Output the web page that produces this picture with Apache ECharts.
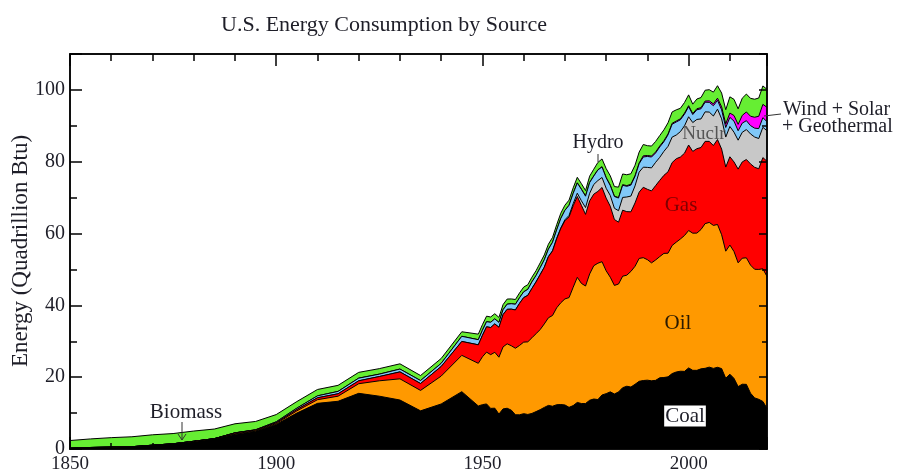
<!DOCTYPE html>
<html>
<head>
<meta charset="utf-8">
<script src="https://cdn.jsdelivr.net/npm/echarts@6/dist/echarts.min.js"></script>
<style>
  html, body { margin: 0; padding: 0; background: #fff; }
  #chart { width: 899px; height: 475px; }
</style>
</head>
<body>
<div id="chart"></div>
<script>
// years: every 5 years to 1945, then yearly
const years = [1850, 1855, 1860, 1865, 1870, 1875, 1880, 1885, 1890, 1895,
  1900, 1905, 1910, 1915, 1920, 1925, 1930, 1935, 1940, 1945,
  1949, 1950, 1951, 1952, 1953, 1954, 1955, 1956, 1957, 1958,
  1959, 1960, 1961, 1962, 1963, 1964, 1965, 1966, 1967, 1968,
  1969, 1970, 1971, 1972, 1973, 1974, 1975, 1976, 1977, 1978,
  1979, 1980, 1981, 1982, 1983, 1984, 1985, 1986, 1987, 1988,
  1989, 1990, 1991, 1992, 1993, 1994, 1995, 1996, 1997, 1998,
  1999, 2000, 2001, 2002, 2003, 2004, 2005, 2006, 2007, 2008,
  2009, 2010, 2011, 2012, 2013, 2014, 2015, 2016, 2017, 2018, 2019]

// quadrillion Btu
const coal = [0.22, 0.42, 0.52, 0.63, 1.05, 1.44, 2.05, 2.84, 4.06, 4.95,
  6.84, 10.0, 12.71, 13.29, 15.5, 14.71, 13.64, 10.63, 12.54, 15.97,
  11.98, 12.35, 12.55, 11.31, 11.37, 9.72, 11.17, 11.35, 10.82, 9.53,
  9.52, 9.84, 9.62, 9.91, 10.41, 10.96, 11.58, 12.14, 11.91, 12.33,
  12.38, 12.27, 11.6, 12.08, 12.97, 12.66, 12.66, 13.58, 13.92, 13.77,
  15.04, 15.42, 15.91, 15.32, 15.89, 17.07, 17.48, 17.26, 18.01, 18.85,
  19.07, 19.17, 18.99, 19.12, 19.84, 19.91, 20.09, 21.0, 21.45, 21.66,
  21.62, 22.58, 21.91, 21.9, 22.32, 22.47, 22.8, 22.45, 22.75, 22.39,
  19.69, 20.83, 19.66, 17.38, 18.04, 18.0, 15.55, 14.23, 13.84, 13.24, 11.32]
const oil = [0, 0, 0.003, 0.006, 0.011, 0.011, 0.1, 0.04, 0.16, 0.17,
  0.23, 0.61, 1.01, 1.42, 2.68, 4.28, 5.9, 5.68, 7.76, 10.11,
  11.88, 13.32, 14.43, 14.96, 15.56, 15.84, 17.26, 17.94, 17.93, 18.53,
  19.32, 19.92, 20.22, 21.05, 21.7, 22.3, 23.25, 24.4, 25.28, 26.98,
  28.34, 29.52, 30.56, 32.95, 34.84, 33.46, 32.73, 35.18, 37.12, 37.97,
  37.12, 34.21, 31.93, 30.23, 30.05, 31.05, 30.92, 32.2, 32.87, 34.22,
  34.21, 33.55, 32.85, 33.53, 33.75, 34.56, 34.44, 35.68, 36.16, 36.82,
  37.84, 38.26, 38.19, 38.22, 38.81, 40.29, 40.3, 39.82, 39.77, 37.28,
  35.4, 35.97, 35.32, 34.47, 35.1, 35.24, 35.66, 35.82, 36.17, 36.95, 36.72]
const gas = [0, 0, 0, 0, 0, 0, 0, 0, 0.26, 0.15,
  0.25, 0.37, 0.54, 0.67, 0.81, 1.19, 1.93, 1.92, 2.67, 3.87,
  5.15, 5.97, 7.05, 7.55, 7.91, 8.33, 9.0, 9.61, 10.19, 10.66,
  11.72, 12.39, 12.93, 13.73, 14.4, 15.29, 15.77, 17.0, 17.95, 19.21,
  20.68, 21.8, 22.47, 22.7, 22.51, 21.73, 19.95, 20.35, 19.93, 20.0,
  20.67, 20.24, 19.75, 18.36, 17.22, 18.39, 17.7, 16.59, 17.64, 18.45,
  19.6, 19.6, 20.03, 20.71, 21.23, 21.73, 22.67, 23.09, 23.22, 22.83,
  22.91, 23.82, 22.77, 23.51, 22.83, 22.91, 22.57, 22.24, 23.66, 23.84,
  23.42, 24.58, 24.96, 26.09, 26.81, 27.38, 28.19, 28.4, 28.03, 30.96, 32.1]
const nuclear = [0, 0, 0, 0, 0, 0, 0, 0, 0, 0,
  0, 0, 0, 0, 0, 0, 0, 0, 0, 0,
  0, 0, 0, 0, 0, 0, 0, 0, 0, 0.002,
  0.002, 0.006, 0.02, 0.03, 0.04, 0.04, 0.04, 0.06, 0.09, 0.14,
  0.15, 0.24, 0.41, 0.58, 0.91, 1.27, 1.9, 2.11, 2.7, 3.02,
  2.78, 2.74, 3.01, 3.13, 3.2, 3.55, 4.08, 4.38, 4.75, 5.59,
  5.6, 6.1, 6.42, 6.48, 6.41, 6.69, 7.08, 7.09, 6.6, 7.07,
  7.61, 7.86, 8.03, 8.15, 7.96, 8.22, 8.16, 8.22, 8.46, 8.43,
  8.36, 8.43, 8.27, 8.06, 8.24, 8.34, 8.34, 8.43, 8.42, 8.44, 8.45]
const hydro = [0, 0, 0, 0, 0, 0, 0, 0, 0.02, 0.09,
  0.25, 0.39, 0.54, 0.66, 0.74, 0.67, 0.79, 0.83, 0.88, 1.44,
  1.43, 1.42, 1.42, 1.47, 1.41, 1.36, 1.36, 1.44, 1.52, 1.59,
  1.55, 1.61, 1.66, 1.82, 1.77, 1.89, 2.06, 2.06, 2.35, 2.35,
  2.65, 2.63, 2.82, 2.86, 2.86, 3.18, 3.16, 2.98, 2.33, 2.94,
  2.93, 2.9, 2.76, 3.27, 3.53, 3.39, 2.97, 3.07, 2.64, 2.33,
  2.84, 3.05, 3.02, 2.62, 2.89, 2.68, 3.21, 3.59, 3.64, 3.3,
  3.27, 2.81, 2.24, 2.69, 2.83, 2.69, 2.7, 2.87, 2.45, 2.51,
  2.67, 2.54, 3.1, 2.63, 2.56, 2.47, 2.32, 2.47, 2.77, 2.69, 2.56]
const windSolarGeo = [0, 0, 0, 0, 0, 0, 0, 0, 0, 0,
  0, 0, 0, 0, 0, 0, 0, 0, 0, 0,
  0, 0, 0, 0, 0, 0, 0, 0, 0, 0,
  0, 0.001, 0.002, 0.002, 0.004, 0.005, 0.004, 0.004, 0.007, 0.009,
  0.013, 0.011, 0.012, 0.031, 0.043, 0.053, 0.07, 0.078, 0.077, 0.064,
  0.084, 0.11, 0.12, 0.11, 0.13, 0.17, 0.2, 0.22, 0.23, 0.22,
  0.32, 0.26, 0.27, 0.27, 0.27, 0.27, 0.25, 0.26, 0.27, 0.27,
  0.28, 0.28, 0.27, 0.29, 0.31, 0.32, 0.42, 0.51, 0.61, 0.83,
  1.0, 1.21, 1.55, 1.77, 2.15, 2.43, 2.61, 3.04, 3.43, 3.7, 4.0]
const biomass = [2.14, 2.39, 2.64, 2.77, 2.89, 2.85, 2.85, 2.68, 2.52, 2.31,
  2.02, 1.84, 1.77, 1.69, 1.61, 1.53, 1.46, 1.4, 1.36, 1.26,
  1.55, 1.56, 1.54, 1.47, 1.42, 1.39, 1.42, 1.42, 1.33, 1.32,
  1.35, 1.32, 1.3, 1.3, 1.32, 1.34, 1.34, 1.37, 1.34, 1.42,
  1.44, 1.43, 1.43, 1.5, 1.53, 1.54, 1.5, 1.71, 1.84, 2.04,
  2.15, 2.48, 2.6, 2.66, 2.9, 2.97, 3.02, 2.93, 2.88, 3.02,
  3.16, 2.74, 2.78, 2.93, 2.91, 3.03, 3.1, 3.16, 3.11, 2.93,
  2.96, 3.01, 2.62, 2.71, 2.81, 3.01, 3.11, 3.27, 3.47, 3.85,
  3.94, 4.51, 4.51, 4.32, 4.8, 4.98, 4.98, 5.02, 5.08, 5.13, 5.02]

// bottom to top
const sources = [
  { name: 'Coal', data: coal, color: '#000000' },
  { name: 'Oil', data: oil, color: '#ff9900' },
  { name: 'Gas', data: gas, color: '#ff0000' },
  { name: 'Nuclear', data: nuclear, color: '#c8c8c8' },
  { name: 'Hydro', data: hydro, color: '#80c8f8' },
  { name: 'Wind + Solar + Geothermal', data: windSolarGeo, color: '#ff00ff' },
  { name: 'Biomass', data: biomass, color: '#66ee33' }
]

const font = 'Liberation Serif, Times New Roman, serif'
const ink = '#1e1e28'

// stacking on a value x axis is done here: running totals, drawn top layer first
let running = years.map(() => 0)
let layers = sources.map(s => {
  running = running.map((v, i) => v + s.data[i])
  return { name: s.name, color: s.color, top: running.slice() }
})

let chart = echarts.init(document.getElementById('chart'))

function xAx(position, interval, len, showLabel) {
  return {
    type: 'value', position: position, min: 1850, max: 2019, interval: interval, z: 5,
    axisLine: { show: true, onZero: false, lineStyle: { color: '#000', width: 1.5 } },
    axisTick: { show: true, inside: true, length: len, lineStyle: { color: '#000', width: 1.5 } },
    splitLine: { show: false },
    axisLabel: {
      show: showLabel, margin: 6, color: ink, fontFamily: font, fontSize: 19,
      formatter: v => (v % 50 === 0 ? String(v) : '')
    }
  }
}

function yAx(position, interval, len, showLabel) {
  return {
    type: 'value', position: position, min: 0, max: 110, interval: interval, z: 5,
    axisLine: { show: true, onZero: false, lineStyle: { color: '#000', width: 1.5 } },
    axisTick: { show: true, inside: true, length: len, lineStyle: { color: '#000', width: 1.5 } },
    splitLine: { show: false },
    axisLabel: {
      show: showLabel, margin: 5, color: ink, fontFamily: font, fontSize: 20,
      formatter: v => (v <= 100 ? String(v) : '')
    }
  }
}

let option = {
  animation: false,
  backgroundColor: '#fff',
  grid: { left: 70, right: 132, top: 54, bottom: 26, containLabel: false, outerBoundsMode: 'none' },
  xAxis: [
    xAx('bottom', 50, 12, true),
    xAx('bottom', 10, 6, false),
    xAx('top', 50, 12, false),
    xAx('top', 10, 7, false)
  ],
  yAxis: [
    yAx('left', 20, 12, true),
    yAx('left', 10, 7, false),
    yAx('right', 20, 8, false),
    yAx('right', 10, 5, false)
  ],
  series: layers.slice().reverse().map((l, k) => ({
    name: l.name,
    type: 'line',
    xAxisIndex: 0,
    yAxisIndex: 0,
    z: 2 + k * 0.01,
    symbol: 'none',
    lineStyle: { color: '#000', width: 1 },
    areaStyle: { color: l.color, opacity: 1, origin: 'start' },
    data: years.map((y, i) => [y, l.top[i]])
  })),
  graphic: [
    { type: 'text', x: 384, y: 25, z: 20, style: { text: 'U.S. Energy Consumption by Source', font: '22px ' + font, fill: ink, textAlign: 'center', textVerticalAlign: 'middle' } },
    { type: 'text', x: 21, y: 251, rotation: Math.PI / 2, z: 20, style: { text: 'Energy (Quadrillion Btu)', font: '23px ' + font, fill: ink, textAlign: 'center', textVerticalAlign: 'middle' } },
    { type: 'text', x: 186, y: 412, z: 20, style: { text: 'Biomass', font: '21px ' + font, fill: ink, textAlign: 'center', textVerticalAlign: 'middle' } },
    { type: 'line', z: 20, shape: { x1: 182, y1: 422, x2: 182, y2: 440 }, style: { stroke: '#333', lineWidth: 1 } },
    { type: 'polyline', z: 20, shape: { points: [[178, 434], [182, 440], [186, 434]] }, style: { stroke: '#333', lineWidth: 1, fill: null } },
    { type: 'text', x: 685, y: 416, z: 20, style: { text: 'Coal', font: '21px ' + font, fill: ink, backgroundColor: '#fff', padding: [0, 1], textAlign: 'center', textVerticalAlign: 'middle' } },
    { type: 'text', x: 678, y: 323, z: 20, style: { text: 'Oil', font: '21px ' + font, fill: '#2a1a00', textAlign: 'center', textVerticalAlign: 'middle' } },
    { type: 'text', x: 681, y: 205, z: 20, style: { text: 'Gas', font: '21px ' + font, fill: '#800000', textAlign: 'center', textVerticalAlign: 'middle' } },
    { type: 'text', x: 704, y: 134, z: 20, style: { text: 'Nuclr', font: '19px ' + font, fill: '#555', textAlign: 'center', textVerticalAlign: 'middle' } },
    { type: 'text', x: 598, y: 143, z: 20, style: { text: 'Hydro', font: '20px ' + font, fill: ink, textAlign: 'center', textVerticalAlign: 'middle' } },
    { type: 'line', z: 20, shape: { x1: 598, y1: 154, x2: 598, y2: 162 }, style: { stroke: '#333', lineWidth: 1 } },
    { type: 'text', x: 783, y: 110, z: 20, style: { text: 'Wind + Solar', font: '20px ' + font, fill: ink, textAlign: 'left', textVerticalAlign: 'middle' } },
    { type: 'text', x: 782, y: 127, z: 20, style: { text: '+ Geothermal', font: '20px ' + font, fill: ink, textAlign: 'left', textVerticalAlign: 'middle' } },
    { type: 'line', z: 20, shape: { x1: 764, y1: 116, x2: 781, y2: 114 }, style: { stroke: '#333', lineWidth: 1 } }
  ]
}

chart.setOption(option)
</script>
</body>
</html>
